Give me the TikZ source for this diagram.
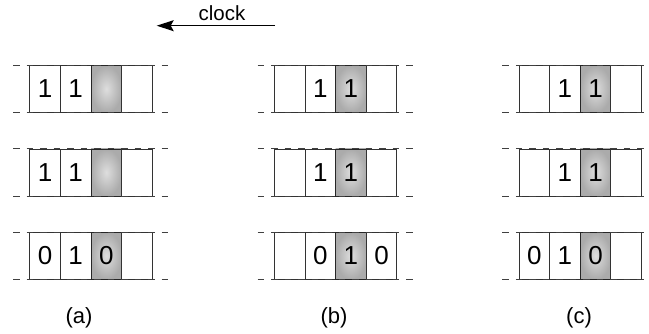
\documentclass[tikz,border=0pt]{standalone}
\usepackage{fontspec}
\setmainfont{Liberation Sans}
\usetikzlibrary{arrows.meta}

% one cell of a shift register
\tikzset{
  cellbox/.style={rectangle, draw=black!80, line width=0.8pt, minimum width=30.6pt,
    minimum height=47pt, inner sep=0pt, anchor=north west,
    font=\fontsize{26}{26}\selectfont},
  headcell/.style={cellbox, draw=black!85, shading=radial, inner color=black!13, outer color=black!33},
  tapedash/.style={draw=black!75, line width=0.9pt, dash pattern=on 6.5pt off 7pt},
  caption/.style={font=\fontsize{22}{22}\selectfont, anchor=base},
  clocktip/.style={-{Stealth[length=17pt,width=11pt,inset=3pt]}, line width=1.3pt}
}

% \tapeRow{x}{y}{name}{c1}{c2}{c3}{c4}: four cells, the third one shaded
\newcommand\tapeRow[7]{%
  \node[cellbox]  (#3-1) at (#1,#2) {#4};
  \node[cellbox]  (#3-2) at (#1+30.6,#2) {#5};
  \node[headcell] (#3-3) at (#1+61.2,#2) {#6};
  \node[cellbox]  (#3-4) at (#1+91.8,#2) {#7};
  \draw[tapedash] ([xshift=-16.3pt]#3-1.north west) -- ([xshift=16.5pt]#3-4.north east);
  \draw[tapedash] ([xshift=-16.3pt]#3-1.south west) -- ([xshift=16.5pt]#3-4.south east);
}

\begin{document}
\begin{tikzpicture}[x=1pt,y=-1pt]
  \useasboundingbox (0,0) rectangle (649,333);

  % clock direction
  \coordinate (clkS) at (275,25.7);
  \coordinate (clkE) at (156.7,25.7);
  \draw[clocktip] (clkS) -- (clkE);
  \node[font=\fontsize{20.5}{20.5}\selectfont, anchor=base] (clk) at (222,20) {clock};

  % (a)
  \tapeRow{29.4}{65}{a1}{1}{1}{}{}
  \tapeRow{29.4}{148.5}{a2}{1}{1}{}{}
  \tapeRow{29.4}{232}{a3}{0}{1}{0}{}

  % (b)
  \tapeRow{274}{65}{b1}{}{1}{1}{}
  \tapeRow{274}{148.5}{b2}{}{1}{1}{}
  \tapeRow{274}{232}{b3}{}{0}{1}{0}

  % (c)
  \tapeRow{518.6}{65}{c1}{}{1}{1}{}
  \tapeRow{518.6}{148.5}{c2}{}{1}{1}{}
  \tapeRow{518.6}{232}{c3}{0}{1}{0}{}

  % captions
  \node[caption] (capa) at (79,323.4) {(a)};
  \node[caption] (capb) at (334,323.4) {(b)};
  \node[caption] (capc) at (579,323.4) {(c)};
\end{tikzpicture}
\end{document}
